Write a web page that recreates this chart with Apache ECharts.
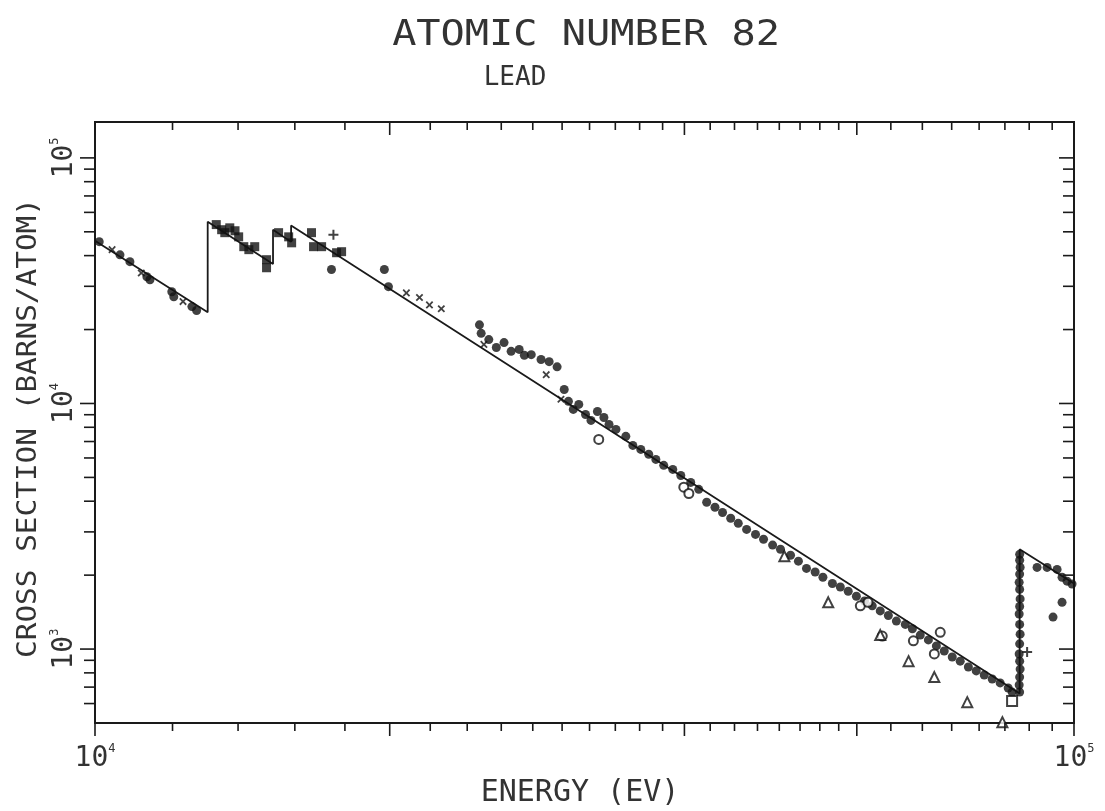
<!DOCTYPE html>
<html>
<head>
<meta charset="utf-8">
<script src="https://cdn.jsdelivr.net/npm/echarts@6.0.0/dist/echarts.min.js"></script>
<style>
  html, body { margin: 0; padding: 0; background: #ffffff; }
  #chart { width: 1105px; height: 811px; }
</style>
</head>
<body>
<div id="chart"></div>
<script>
// Photoabsorption cross section of lead, 10 keV - 100 keV.
// Energies in eV, cross sections in barns/atom.

// Theoretical curve with the L3, L2, L1 and K absorption edges
const curveEnergy  = [10000, 13035, 13035, 15200, 15200, 15860, 15860, 88000, 88000, 100000];
const curveSection = [46000, 23500, 55000, 37000, 51000, 45500, 53000,   660,  2550,   1850];

// Measured points, grouped by plotting symbol: [energy, cross section]
const filledCircles = [
  [10100, 45600], [10605, 40300], [10856, 37800], [11298, 32800], [11380, 31900],
  [11980, 28500], [12036, 27200], [12560, 24800], [12700, 23900],
  [17440, 35100], [19750, 35100], [19940, 29900],
  [24700, 20900], [24800, 19300], [25250, 18200], [25700, 16900], [26170, 17700],
  [26610, 16300], [27120, 16600], [27450, 15700], [27900, 15800], [28550, 15100],
  [29100, 14800], [29650, 14100],
  [30150, 11400], [30450, 10200], [30800, 9460], [31200, 9910], [31700, 9020],
  [32110, 8530], [32600, 9280], [33100, 8770], [33500, 8220], [34050, 7840],
  [34850, 7350], [35430, 6750], [36100, 6500], [36780, 6210], [37400, 5920],
  [38100, 5600], [38920, 5390], [39660, 5090], [40600, 4770], [41370, 4470],
  [42150, 3960], [42980, 3780], [43750, 3600], [44600, 3410], [45400, 3250],
  [46300, 3070], [47280, 2930], [48180, 2800], [49220, 2650], [50140, 2550],
  [51340, 2410], [52300, 2280], [53300, 2130], [54400, 2060], [55400, 1960],
  [56650, 1850], [57720, 1790], [58800, 1720], [59940, 1640], [61100, 1570],
  [62220, 1500], [63400, 1430], [64620, 1370], [65850, 1300],
  [67250, 1260], [68380, 1210], [69660, 1140], [71000, 1090], [72350, 1030],
  [73700, 982], [75100, 928], [76520, 893], [78000, 845], [79460, 815],
  [80970, 784], [82500, 755], [84060, 728], [85660, 694], [86450, 668],
  [88000, 2430], [88000, 2300], [88100, 2150], [88000, 2020], [87900, 1870],
  [88000, 1750], [88100, 1600], [88000, 1490], [87900, 1390], [88000, 1260],
  [88100, 1150], [88000, 1050], [87900, 955], [88000, 893], [88100, 829],
  [88000, 769], [87900, 714], [88000, 668],
  [91680, 2150], [93870, 2150], [96100, 2110], [97230, 1960], [98380, 1890],
  [99540, 1840], [97230, 1550], [95190, 1350]
];
const filledSquares = [
  [13300, 53500], [13470, 51000], [13570, 49600], [13730, 51900], [13900, 50500],
  [14020, 47700], [14190, 43500], [14360, 42300], [14560, 43500], [14970, 38500],
  [14970, 35700], [15400, 49600], [15770, 47700], [15880, 45100], [16640, 49600],
  [16720, 43500], [17040, 43500], [17650, 41100], [17860, 41500]
];
const openCircles = [
  [32700, 7140], [39940, 4560], [40420, 4300], [60500, 1500], [61600, 1550],
  [63700, 1130], [68540, 1080], [73010, 1170], [72000, 955]
];
const openTriangles = [
  [50600, 2390], [56100, 1550], [63400, 1140], [67770, 893], [72000, 769],
  [77800, 608], [84500, 504]
];
const openSquares = [[86450, 615]];
const crossMarks = [
  [10410, 42300], [11150, 34000], [12300, 26000], [20800, 28200], [21450, 27000],
  [21960, 25200], [22580, 24300], [24960, 17400], [28900, 13100], [29920, 10400]
];
const plusMarks = [[17520, 48700], [89560, 973]];

// Tick marks along the frame
const energyTicks = [12000, 14000, 16000, 18000, 22000, 24000, 26000, 28000, 30000,
  32000, 34000, 36000, 38000, 42500, 45000, 47500, 50000, 52500, 55000, 57500,
  65000, 70000, 75000, 80000, 85000, 90000, 95000];
const energyLongTicks = [10000, 20000, 40000, 60000, 100000];
const sectionTicks = [600, 700, 800, 900, 2000, 3000, 4000, 5000, 6000, 7000, 8000, 9000,
  20000, 30000, 40000, 50000, 60000, 70000, 80000, 90000];
const sectionLongTicks = [1000, 10000, 100000];

const FONT = '"DejaVu Sans Mono", "Liberation Mono", monospace';
const INK = '#1a1a1a';
const TEXT = '#333333';

function powerLabel(v) {
  const e = Math.log10(v);
  if (Math.abs(e - Math.round(e)) > 1e-6) return '';
  return '{b|10}{s|' + Math.round(e) + '}';
}

const labelRich = {
  b: { fontFamily: FONT, fontSize: 28, lineHeight: 32, color: TEXT },
  s: { fontFamily: FONT, fontSize: 12, color: TEXT, verticalAlign: 'top' }
};

function energyTickItem(params, api) {
  const cs = params.coordSys;
  const x = api.coord([api.value(0), 1000])[0];
  const len = api.value(2);
  const bottom = cs.y + cs.height;
  const top = cs.y;
  const st = { stroke: INK, lineWidth: 1.6 };
  return {
    type: 'group',
    children: [
      { type: 'line', shape: { x1: x, y1: bottom, x2: x, y2: bottom + len }, style: st },
      { type: 'line', shape: { x1: x, y1: top, x2: x, y2: top + len }, style: st }
    ]
  };
}

function sectionTickItem(params, api) {
  const cs = params.coordSys;
  const y = api.coord([20000, api.value(1)])[1];
  const len = api.value(2);
  const left = cs.x;
  const right = cs.x + cs.width;
  const st = { stroke: INK, lineWidth: 1.6 };
  return {
    type: 'group',
    children: [
      { type: 'line', shape: { x1: left - len, y1: y, x2: left, y2: y }, style: st },
      { type: 'line', shape: { x1: right - len, y1: y, x2: right, y2: y }, style: st }
    ]
  };
}

const toPairs = (xs, ys) => xs.map((x, i) => [x, ys[i]]);

const chart = echarts.init(document.getElementById('chart'), null, { renderer: 'canvas' });

chart.setOption({
  backgroundColor: '#ffffff',
  animation: false,
  grid: {
    left: 95, right: 31, top: 122, bottom: 88,
    show: true, borderColor: INK, borderWidth: 2, backgroundColor: 'transparent',
    containLabel: false, outerBoundsMode: 'none'
  },
  xAxis: {
    type: 'log', logBase: 10, min: 10000, max: 100000,
    axisLine: { show: false }, axisTick: { show: false }, splitLine: { show: false },
    axisLabel: { formatter: powerLabel, margin: 20, rich: labelRich, showMinLabel: true, showMaxLabel: true }
  },
  yAxis: {
    type: 'log', logBase: 10, min: 500, max: 140000,
    axisLine: { show: false }, axisTick: { show: false }, splitLine: { show: false },
    axisLabel: { formatter: powerLabel, margin: 14, rotate: 90, rich: labelRich }
  },
  graphic: [
    { type: 'text', x: 586, y: 36, scaleX: 1.15, silent: true,
      style: { text: 'ATOMIC NUMBER 82', fontFamily: FONT, fontSize: 35, fill: TEXT, align: 'center', verticalAlign: 'middle' } },
    { type: 'text', x: 515, y: 78, silent: true,
      style: { text: 'LEAD', fontFamily: FONT, fontSize: 26, fill: TEXT, align: 'center', verticalAlign: 'middle' } },
    { type: 'text', x: 29, y: 428, rotation: Math.PI / 2, scaleX: 1.13, silent: true,
      style: { text: 'CROSS SECTION (BARNS/ATOM)', fontFamily: FONT, fontSize: 26, fill: TEXT, align: 'center', verticalAlign: 'middle' } },
    { type: 'text', x: 580, y: 793, silent: true,
      style: { text: 'ENERGY (EV)', fontFamily: FONT, fontSize: 30, fill: TEXT, align: 'center', verticalAlign: 'middle' } }
  ],
  series: [
    {
      type: 'line', data: toPairs(curveEnergy, curveSection), symbol: 'none',
      lineStyle: { color: INK, width: 1.8 }, z: 3, silent: true
    },
    {
      type: 'scatter', data: filledCircles, symbol: 'circle', symbolSize: 9,
      itemStyle: { color: '#111' }, z: 4, silent: true
    },
    {
      type: 'scatter', data: filledSquares, symbol: 'rect', symbolSize: 9,
      itemStyle: { color: '#111' }, z: 4, silent: true
    },
    {
      type: 'scatter', data: openCircles, symbol: 'emptyCircle', symbolSize: 9,
      itemStyle: { color: '#111', borderColor: '#111', borderWidth: 1.6 }, z: 4, silent: true
    },
    {
      type: 'scatter', data: openTriangles, symbol: 'emptyTriangle', symbolSize: 10,
      itemStyle: { color: '#111', borderColor: '#111', borderWidth: 1.6 }, z: 4, silent: true
    },
    {
      type: 'scatter', data: openSquares, symbol: 'emptyRect', symbolSize: 10,
      itemStyle: { color: '#111', borderColor: '#111', borderWidth: 1.6 }, z: 4, silent: true
    },
    {
      type: 'scatter', data: crossMarks, symbol: 'path://M4,0H6V4H10V6H6V10H4V6H0V4H4Z',
      symbolRotate: 45, symbolSize: 9, itemStyle: { color: '#111' }, z: 4, silent: true
    },
    {
      type: 'scatter', data: plusMarks, symbol: 'path://M4,0H6V4H10V6H6V10H4V6H0V4H4Z',
      symbolSize: 10, itemStyle: { color: '#111' }, z: 4, silent: true
    },
    {
      type: 'custom', renderItem: energyTickItem, silent: true, clip: false, z: 5,
      encode: { x: 0, y: 1 },
      data: energyTicks.map(v => [v, 1000, 8]).concat(energyLongTicks.map(v => [v, 1000, 13]))
    },
    {
      type: 'custom', renderItem: sectionTickItem, silent: true, clip: false, z: 5,
      encode: { x: 0, y: 1 },
      data: sectionTicks.map(v => [20000, v, 11]).concat(sectionLongTicks.map(v => [20000, v, 15]))
    }
  ]
});
</script>
</body>
</html>
